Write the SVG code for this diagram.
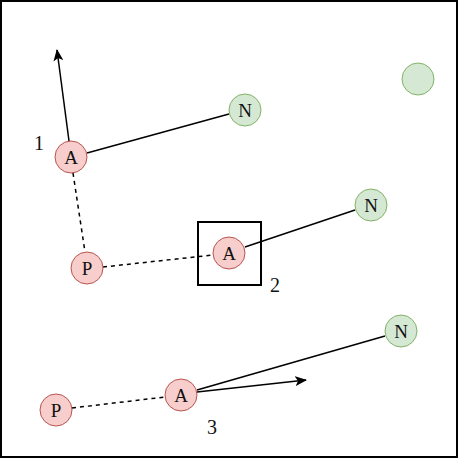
<svg xmlns="http://www.w3.org/2000/svg" width="460" height="460" viewBox="0 0 460 460">
<defs>
<marker id="arr" markerWidth="12" markerHeight="10" refX="11" refY="5" orient="auto" markerUnits="userSpaceOnUse">
<path d="M0,0 L12,5 L0,10 L3,5 Z" fill="#000"/>
</marker>
</defs>
<style>
.red{fill:#f8cecc;stroke:#b85450;stroke-width:1}
.green{fill:#d5e8d4;stroke:#82b366;stroke-width:1}
.lbl{font-family:"Liberation Serif","DejaVu Serif",serif;font-size:19px;fill:#111;text-anchor:middle;dominant-baseline:central}
.num{font-family:"Liberation Serif","DejaVu Serif",serif;font-size:20px;fill:#111;text-anchor:middle;dominant-baseline:central}
.solid{stroke:#000;stroke-width:1.5;fill:none}
.dash{stroke:#000;stroke-width:1.5;fill:none;stroke-dasharray:4 4}
</style>
<rect x="1" y="1" width="456" height="456" fill="#fff" stroke="#000" stroke-width="2"/>
<g id="connectors">
<line class="solid" x1="69" y1="141" x2="57" y2="50" marker-end="url(#arr)"/>
<line class="solid" x1="87" y1="153" x2="229" y2="114"/>
<line class="dash" x1="73" y1="173" x2="85" y2="252"/>
<line class="dash" x1="103" y1="267" x2="213" y2="255"/>
<line class="solid" x1="245" y1="247" x2="355" y2="210"/>
<line class="dash" x1="72" y1="408" x2="165" y2="397"/>
<line class="solid" x1="197" y1="390" x2="385" y2="336"/>
<line class="solid" x1="197" y1="392" x2="306" y2="380" marker-end="url(#arr)"/>
</g>
<g id="box2"><rect x="198" y="222" width="63" height="63" fill="none" stroke="#000" stroke-width="2"/></g>
<g id="A1"><circle class="red" cx="71" cy="157" r="16"/><text class="lbl" x="71" y="157">A</text></g>
<g id="N1"><circle class="green" cx="245" cy="110" r="16"/><text class="lbl" x="245" y="110">N</text></g>
<g id="P1"><circle class="red" cx="87" cy="268" r="16"/><text class="lbl" x="87" y="268">P</text></g>
<g id="A2"><circle class="red" cx="229" cy="253" r="16"/><text class="lbl" x="229" y="253">A</text></g>
<g id="N2"><circle class="green" cx="371" cy="205" r="16"/><text class="lbl" x="371" y="205">N</text></g>
<g id="P3"><circle class="red" cx="56" cy="410" r="16"/><text class="lbl" x="56" y="410">P</text></g>
<g id="A3"><circle class="red" cx="181" cy="395" r="16"/><text class="lbl" x="181" y="395">A</text></g>
<g id="N3"><circle class="green" cx="401" cy="331" r="16"/><text class="lbl" x="401" y="331">N</text></g>
<g id="G"><circle class="green" cx="418" cy="79" r="16"/></g>
<g id="labels">
<text class="num" x="39" y="143">1</text>
<text class="num" x="275" y="285">2</text>
<text class="num" x="212" y="427">3</text>
</g>
</svg>
